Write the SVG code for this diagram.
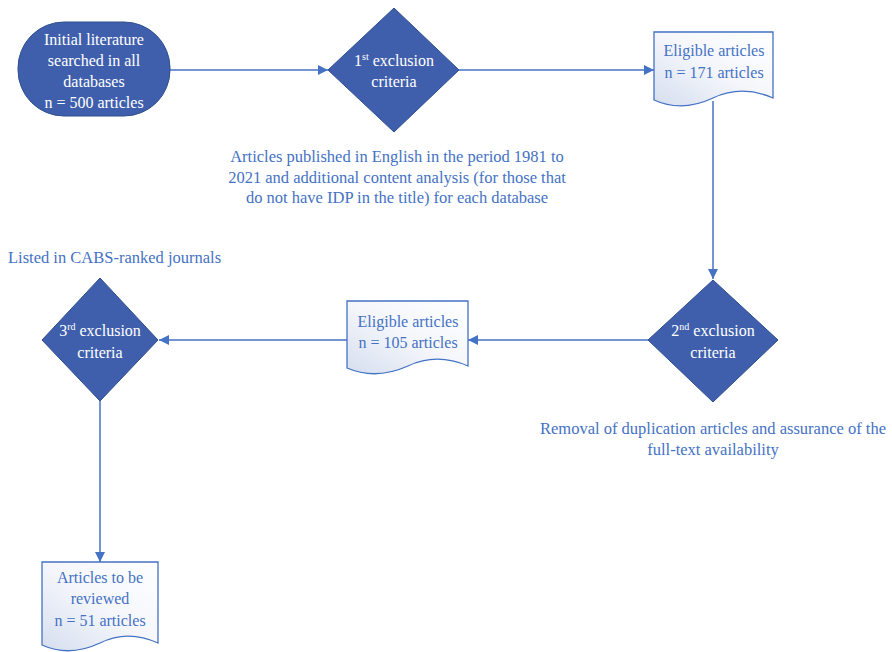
<svg xmlns="http://www.w3.org/2000/svg" width="892" height="652" viewBox="0 0 892 652">
<defs>
<linearGradient id="docg" x1="0" y1="1" x2="1" y2="0">
<stop offset="0" stop-color="#d5deef"/>
<stop offset="0.5" stop-color="#f4f6fb"/>
<stop offset="1" stop-color="#ffffff"/>
</linearGradient>
<marker id="arr" viewBox="0 0 10 10" refX="10" refY="5" markerWidth="10" markerHeight="10" markerUnits="userSpaceOnUse" orient="auto">
<path d="M0,0 L10,5 L0,10 z" fill="#4472c4"/>
</marker>
</defs>
<style>
.shape{fill:#3f5fad;stroke:#2f4f8f;stroke-width:1}
.doc{fill:url(#docg);stroke:#4472c4;stroke-width:1.3}
.wt{font-family:"Liberation Serif",serif;font-size:16px;fill:#ffffff;text-anchor:middle}
.bt{font-family:"Liberation Serif",serif;font-size:16px;fill:#4472c4;text-anchor:middle}
.lbl{font-family:"Liberation Serif",serif;font-size:16.5px;fill:#4472c4}
.sup{font-size:10px}
.conn{stroke:#4472c4;stroke-width:1.5;fill:none}
</style>
<rect width="892" height="652" fill="#ffffff"/>
<g id="connectors">
<line class="conn" x1="170" y1="70" x2="328" y2="70" marker-end="url(#arr)"/>
<line class="conn" x1="458" y1="70" x2="654" y2="70" marker-end="url(#arr)"/>
<line class="conn" x1="713" y1="101" x2="713" y2="279" marker-end="url(#arr)"/>
<line class="conn" x1="648" y1="340" x2="468" y2="340" marker-end="url(#arr)"/>
<line class="conn" x1="347" y1="340" x2="159" y2="340" marker-end="url(#arr)"/>
<line class="conn" x1="100" y1="401" x2="100" y2="562" marker-end="url(#arr)"/>
</g>
<g id="start">
<rect class="shape" x="18" y="22" width="152" height="94" rx="46" ry="46"/>
<text class="wt" x="94" y="45">Initial literature</text>
<text class="wt" x="94" y="66">searched in all</text>
<text class="wt" x="94" y="87">databases</text>
<text class="wt" x="94" y="108">n = 500 articles</text>
</g>
<g id="decision1">
<polygon class="shape" points="394,8 459,70 394,132 328,70"/>
<text class="wt" x="394" y="66">1<tspan class="sup" dy="-6">st</tspan><tspan dy="6"> exclusion</tspan></text>
<text class="wt" x="394" y="87">criteria</text>
</g>
<g id="doc1">
<path class="doc" d="M654,32 L773,32 L773,98 C750,88 730,90 713,98 C696,106 676,110 654,100 Z"/>
<text class="bt" x="714" y="56">Eligible articles</text>
<text class="bt" x="714" y="78">n = 171 articles</text>
</g>
<g id="decision2">
<polygon class="shape" points="713,280 778,340 713,402 648,340"/>
<text class="wt" x="713" y="336">2<tspan class="sup" dy="-6">nd</tspan><tspan dy="6"> exclusion</tspan></text>
<text class="wt" x="713" y="358">criteria</text>
</g>
<g id="doc2">
<path class="doc" d="M347,301 L468,301 L468,366 C445,356 425,358 408,366 C390,374 370,378 347,368 Z"/>
<text class="bt" x="408" y="327">Eligible articles</text>
<text class="bt" x="408" y="348">n = 105 articles</text>
</g>
<g id="decision3">
<polygon class="shape" points="100,278 158,340 100,401 42,340"/>
<text class="wt" x="100" y="336">3<tspan class="sup" dy="-6">rd</tspan><tspan dy="6"> exclusion</tspan></text>
<text class="wt" x="100" y="358">criteria</text>
</g>
<g id="doc3">
<path class="doc" d="M42,562 L158,562 L158,643 C136,633 116,635 100,643 C83,651 64,655 42,645 Z"/>
<text class="bt" x="100" y="583">Articles to be</text>
<text class="bt" x="100" y="604">reviewed</text>
<text class="bt" x="100" y="626">n = 51 articles</text>
</g>
<g id="labels">
<text class="lbl" x="397" y="162" text-anchor="middle">Articles published in English in the period 1981 to</text>
<text class="lbl" x="397" y="183" text-anchor="middle">2021 and additional content analysis (for those that</text>
<text class="lbl" x="397" y="203" text-anchor="middle">do not have IDP in the title) for each database</text>
<text class="lbl" x="8" y="263">Listed in CABS-ranked journals</text>
<text class="lbl" x="713" y="434" text-anchor="middle">Removal of duplication articles and assurance of the</text>
<text class="lbl" x="713" y="455" text-anchor="middle">full-text availability</text>
</g>
</svg>
